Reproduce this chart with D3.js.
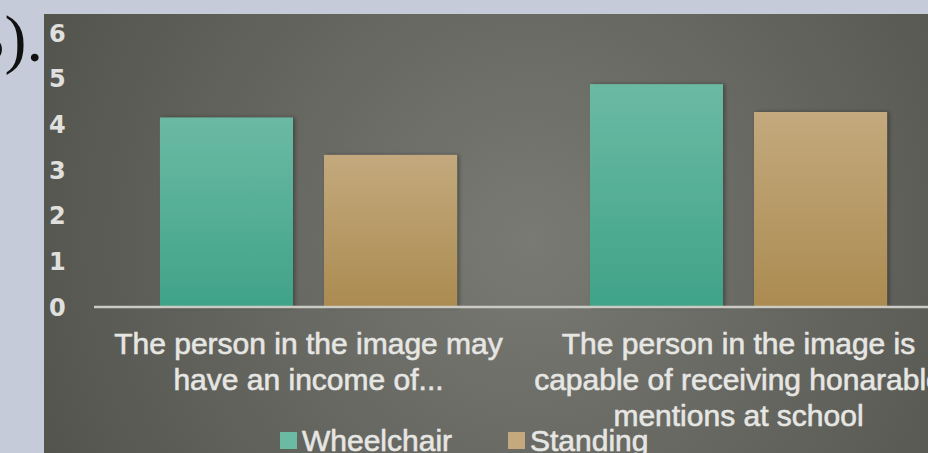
<!DOCTYPE html>
<html>
<head>
<meta charset="utf-8">
<script src="https://cdn.jsdelivr.net/npm/d3@7"></script>
<style>
  body { margin: 0; background: #c5cbd8; overflow: hidden; }
  text { font-family: "Liberation Sans", Arial, sans-serif; }
</style>
</head>
<body>
<div id="chart"></div>
<script>
// data
const categories = [
  ["The person in the image may", "have an income of..."],
  ["The person in the image is", "capable of receiving honarable", "mentions at school"]
];
const seriesNames = ["Wheelchair", "Standing"];
const wheelchair = [4.15, 4.88];
const standing = [3.33, 4.27];
const yTicks = [0, 1, 2, 3, 4, 5, 6];
const seriesColors = {
  Wheelchair: ["#6bbaa3", "#3fa388"],
  Standing: ["#c3a97d", "#ab8b50"]
};

const W = 928, H = 453;
const panel = {left: 44, top: 14};
const textColor = '#e6e6e3';

const svg = d3.select('#chart').append('svg')
  .attr('width', W)
  .attr('height', H);

const defs = svg.append('defs');

// panel background: dark radial gradient
const bg = defs.append('radialGradient')
  .attr('id', 'bg')
  .attr('gradientUnits', 'userSpaceOnUse')
  .attr('cx', 530).attr('cy', 240).attr('r', 560);
bg.append('stop').attr('offset', 0).attr('stop-color', '#7a7a74');
bg.append('stop').attr('offset', 1).attr('stop-color', '#52524d');

for (const s of seriesNames) {
  const g = defs.append('linearGradient')
    .attr('id', 'grad-' + s)
    .attr('x1', 0).attr('y1', 0).attr('x2', 0).attr('y2', 1);
  g.append('stop').attr('offset', 0).attr('stop-color', seriesColors[s][0]);
  g.append('stop').attr('offset', 1).attr('stop-color', seriesColors[s][1]);
}

const shadow = defs.append('filter').attr('id', 'shadow')
  .attr('x', '-10%').attr('y', '-10%').attr('width', '130%').attr('height', '130%');
shadow.append('feDropShadow')
  .attr('dx', 2).attr('dy', 0).attr('stdDeviation', 2)
  .attr('flood-color', '#000').attr('flood-opacity', 0.35);

// slide number fragment left of the chart
svg.append('text')
  .attr('x', 43)
  .attr('y', 61)
  .attr('text-anchor', 'end')
  .style('font-family', '"Liberation Serif", "Times New Roman", serif')
  .style('font-size', '66px')
  .attr('fill', '#111')
  .text('3).');

svg.append('rect')
  .attr('x', panel.left)
  .attr('y', panel.top)
  .attr('width', W - panel.left)
  .attr('height', H - panel.top)
  .attr('fill', 'url(#bg)');

// scales
const y = d3.scaleLinear().domain([0, 6]).range([307, 33]);
const x0 = d3.scaleBand()
  .domain(d3.range(categories.length))
  .range([93.5, 953.5]);
const x1 = d3.scaleBand()
  .domain(seriesNames)
  .range([0, x0.bandwidth()])
  .paddingInner(0.189)
  .paddingOuter(0.405);

const values = {Wheelchair: wheelchair, Standing: standing};

// y tick labels
svg.append('g')
  .selectAll('text')
  .data(yTicks)
  .enter().append('text')
  .attr('x', 49)
  .attr('y', d => y(d))
  .attr('dy', '0.36em')
  .style('font-family', '"DejaVu Sans", sans-serif')
  .style('font-size', '24px')
  .style('font-weight', 'bold')
  .attr('fill', '#e0e0de')
  .text(d => d);

// bars
const groups = svg.append('g')
  .selectAll('g')
  .data(categories.map((c, i) => i))
  .enter().append('g')
  .attr('transform', i => `translate(${x0(i)},0)`);

groups.selectAll('rect')
  .data(i => seriesNames.map(s => ({s, v: values[s][i]})))
  .enter().append('rect')
  .attr('x', d => x1(d.s))
  .attr('y', d => y(d.v))
  .attr('width', x1.bandwidth())
  .attr('height', d => y(0) - y(d.v))
  .attr('fill', d => `url(#grad-${d.s})`)
  .attr('filter', 'url(#shadow)');

// baseline
svg.append('line')
  .attr('x1', 94)
  .attr('x2', W)
  .attr('y1', y(0))
  .attr('y2', y(0))
  .attr('stroke', '#cbcbc4')
  .attr('stroke-width', 2.5);

// category labels
const labels = svg.append('g')
  .selectAll('text')
  .data(categories)
  .enter().append('text')
  .attr('x', (d, i) => x0(i) + x0.bandwidth() / 2)
  .attr('y', 354)
  .attr('text-anchor', 'middle')
  .style('font-size', '30px')
  .attr('fill', textColor)
  .attr('stroke', textColor)
  .attr('stroke-width', 0.6);

labels.selectAll('tspan')
  .data(d => d)
  .enter().append('tspan')
  .attr('x', function() { return this.parentNode.getAttribute('x'); })
  .attr('dy', (d, i) => i === 0 ? 0 : 36)
  .text(d => d);

// legend
const legendX = [280, 508];
const legend = svg.append('g')
  .selectAll('g')
  .data(seriesNames)
  .enter().append('g')
  .attr('transform', (d, i) => `translate(${legendX[i]},432)`);

legend.append('rect')
  .attr('width', 17)
  .attr('height', 17)
  .attr('fill', d => seriesColors[d][0]);

legend.append('text')
  .attr('x', 22)
  .attr('y', 19)
  .style('font-size', '30px')
  .attr('fill', textColor)
  .attr('stroke', textColor)
  .attr('stroke-width', 0.6)
  .text(d => d);
</script>
</body>
</html>
